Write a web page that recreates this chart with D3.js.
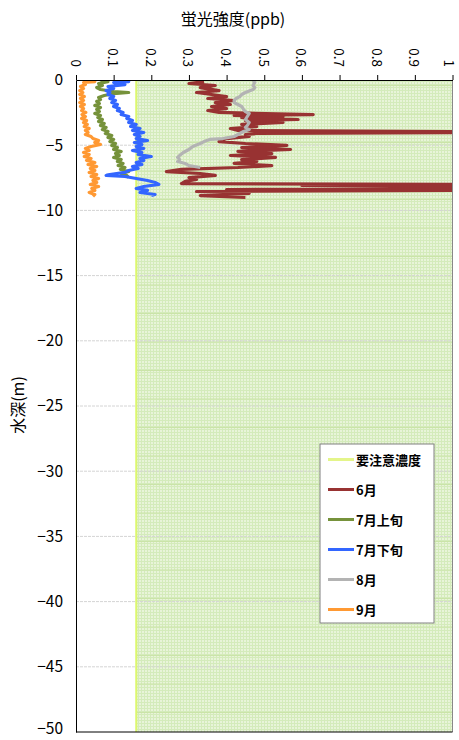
<!DOCTYPE html>
<html>
<head>
<meta charset="utf-8">
<script src="https://cdn.jsdelivr.net/npm/d3@7"></script>
<style>
  body { margin: 0; background: #fff; }
  svg text { font-family: "Noto Sans CJK JP", "Noto Sans", sans-serif; fill: #000; }
</style>
</head>
<body>
<div id="chart"></div>
<script>
// [depth (m), fluorescence (ppb)]
const jun = [[-0.12,0.34],[-0.27,0.30],[-0.42,0.37],[-0.58,0.33],[-0.81,0.38],[-0.96,0.32],[-1.11,0.36],[-1.27,0.40],[-1.42,0.35],[-1.57,0.42],[-1.73,0.37],[-1.88,0.41],[-2.03,0.36],[-2.19,0.40],[-2.34,0.35],[-2.49,0.38],[-2.65,0.63],[-2.72,0.42],[-2.80,0.55],[-2.88,0.44],[-3.03,0.59],[-3.11,0.45],[-3.26,0.55],[-3.41,0.44],[-3.57,0.48],[-3.72,0.41],[-3.87,0.43],[-3.95,1.0],[-4.03,1.0],[-4.10,0.48],[-4.18,0.45],[-4.33,0.46],[-4.49,0.40],[-4.72,0.38],[-4.87,0.45],[-5.02,0.56],[-5.18,0.44],[-5.33,0.57],[-5.48,0.43],[-5.64,0.52],[-5.79,0.41],[-5.94,0.53],[-6.10,0.44],[-6.25,0.48],[-6.40,0.42],[-6.56,0.52],[-6.71,0.43],[-6.86,0.28],[-7.02,0.24],[-7.17,0.33],[-7.32,0.37],[-7.48,0.30],[-7.63,0.32],[-7.78,0.29],[-7.94,0.28],[-8.01,1.0],[-8.09,0.6],[-8.17,1.0],[-8.32,1.0],[-8.40,0.4],[-8.47,1.0],[-8.55,0.32],[-8.70,0.46],[-8.86,0.33],[-9.01,0.45]];

const julEarly = [[-0.04,0.065],[-0.12,0.085],[-0.27,0.06],[-0.42,0.07],[-0.58,0.055],[-0.73,0.065],[-0.88,0.10],[-0.96,0.14],[-1.04,0.10],[-1.19,0.075],[-1.34,0.06],[-1.50,0.065],[-1.65,0.055],[-1.80,0.062],[-1.96,0.05],[-2.11,0.065],[-2.26,0.055],[-2.42,0.062],[-2.57,0.05],[-2.72,0.065],[-2.88,0.058],[-3.03,0.07],[-3.18,0.06],[-3.34,0.075],[-3.49,0.065],[-3.64,0.08],[-3.80,0.07],[-3.95,0.085],[-4.10,0.078],[-4.26,0.095],[-4.41,0.085],[-4.56,0.10],[-4.72,0.09],[-4.87,0.105],[-5.02,0.095],[-5.18,0.11],[-5.33,0.10],[-5.48,0.12],[-5.64,0.105],[-5.79,0.115],[-5.94,0.10],[-6.10,0.12],[-6.25,0.11],[-6.40,0.125],[-6.56,0.112],[-6.71,0.13],[-6.86,0.118],[-7.02,0.14],[-7.17,0.12],[-7.32,0.135],[-7.48,0.14]];

const julLate = [[-0.04,0.11],[-0.12,0.14],[-0.19,0.10],[-0.35,0.13],[-0.50,0.085],[-0.65,0.10],[-0.81,0.08],[-0.96,0.09],[-1.11,0.085],[-1.27,0.10],[-1.42,0.09],[-1.57,0.105],[-1.73,0.095],[-1.88,0.11],[-2.03,0.10],[-2.19,0.115],[-2.34,0.11],[-2.49,0.125],[-2.65,0.12],[-2.80,0.14],[-2.95,0.135],[-3.11,0.15],[-3.26,0.14],[-3.41,0.16],[-3.57,0.145],[-3.72,0.17],[-3.87,0.15],[-4.03,0.18],[-4.18,0.155],[-4.33,0.17],[-4.49,0.16],[-4.64,0.19],[-4.79,0.155],[-4.95,0.175],[-5.10,0.16],[-5.25,0.18],[-5.41,0.15],[-5.56,0.175],[-5.71,0.165],[-5.87,0.20],[-6.02,0.17],[-6.17,0.18],[-6.33,0.16],[-6.48,0.175],[-6.63,0.15],[-6.79,0.165],[-6.94,0.14],[-7.09,0.13],[-7.25,0.09],[-7.32,0.08],[-7.40,0.13],[-7.55,0.16],[-7.71,0.19],[-7.86,0.21],[-8.01,0.22],[-8.17,0.18],[-8.32,0.16],[-8.47,0.19],[-8.63,0.17],[-8.78,0.21],[-8.86,0.20]];

const aug = [[-0.04,0.47],[-0.19,0.475],[-0.42,0.47],[-0.58,0.475],[-0.73,0.47],[-0.96,0.45],[-1.11,0.44],[-1.27,0.435],[-1.42,0.425],[-1.57,0.42],[-1.73,0.42],[-1.88,0.43],[-2.03,0.44],[-2.26,0.445],[-2.42,0.45],[-2.57,0.46],[-2.80,0.455],[-3.03,0.45],[-3.26,0.46],[-3.49,0.455],[-3.64,0.45],[-3.80,0.46],[-3.95,0.445],[-4.10,0.435],[-4.33,0.42],[-4.49,0.39],[-4.56,0.355],[-4.72,0.34],[-4.87,0.33],[-5.10,0.31],[-5.33,0.30],[-5.56,0.285],[-5.79,0.275],[-5.94,0.27],[-6.10,0.275],[-6.25,0.27],[-6.40,0.29],[-6.56,0.30],[-6.71,0.33]];

const sep = [[-0.04,0.035],[-0.12,0.05],[-0.19,0.02],[-0.35,0.025],[-0.50,0.012],[-0.65,0.02],[-0.81,0.01],[-0.96,0.018],[-1.11,0.01],[-1.27,0.022],[-1.42,0.012],[-1.57,0.02],[-1.73,0.01],[-1.88,0.022],[-2.03,0.012],[-2.19,0.02],[-2.34,0.015],[-2.49,0.026],[-2.65,0.016],[-2.80,0.025],[-2.95,0.015],[-3.11,0.028],[-3.26,0.02],[-3.41,0.03],[-3.57,0.022],[-3.72,0.035],[-3.87,0.025],[-4.03,0.032],[-4.18,0.025],[-4.33,0.04],[-4.49,0.045],[-4.64,0.06],[-4.79,0.05],[-4.95,0.065],[-5.10,0.04],[-5.25,0.025],[-5.41,0.035],[-5.56,0.02],[-5.71,0.035],[-5.87,0.022],[-6.02,0.04],[-6.17,0.028],[-6.33,0.05],[-6.48,0.032],[-6.63,0.055],[-6.79,0.038],[-6.94,0.05],[-7.09,0.035],[-7.25,0.055],[-7.40,0.04],[-7.55,0.06],[-7.71,0.045],[-7.86,0.055],[-8.01,0.038],[-8.17,0.06],[-8.32,0.042],[-8.47,0.05],[-8.63,0.035],[-8.78,0.05],[-8.93,0.045]];

const threshold = 0.16;
const seriesNames = ["6月", "7月上旬", "7月下旬", "8月", "9月"];
const seriesData = [jun, julEarly, julLate, aug, sep];
const seriesColors = ["#983232", "#76923b", "#3366ff", "#b3b3b3", "#ff9933"];
const xTicks = [0, 0.1, 0.2, 0.3, 0.4, 0.5, 0.6, 0.7, 0.8, 0.9, 1];
const yTicks = [0, -5, -10, -15, -20, -25, -30, -35, -40, -45, -50];

const width = 459, height = 740;
const margin = { left: 76, right: 452.5, top: 80, bottom: 732 };

const svg = d3.select("#chart").append("svg")
  .attr("width", width)
  .attr("height", height);

const x = d3.scaleLinear().domain([0, 1]).range([margin.left, margin.right]);
const y = d3.scaleLinear().domain([0, -50]).range([margin.top, margin.bottom]);

// hatch pattern for the caution zone
const defs = svg.append("defs");
const fine = defs.append("pattern")
  .attr("id", "fine")
  .attr("patternUnits", "userSpaceOnUse")
  .attr("width", 3).attr("height", 3);
fine.append("rect").attr("width", 3).attr("height", 3).attr("fill", "#e8f4d9");
fine.append("rect").attr("width", 3).attr("height", 1).attr("fill", "#d4ebbb");
fine.append("rect").attr("width", 1).attr("height", 3).attr("fill", "#d4ebbb");

const coarse = defs.append("pattern")
  .attr("id", "coarse")
  .attr("patternUnits", "userSpaceOnUse")
  .attr("y", 85)
  .attr("width", 20).attr("height", 28.5);
coarse.append("rect").attr("width", 20).attr("height", 1).attr("fill", "#cae4a8");

defs.append("clipPath").attr("id", "plotClip")
  .append("rect")
  .attr("x", margin.left).attr("y", margin.top)
  .attr("width", margin.right - margin.left).attr("height", margin.bottom - margin.top);

svg.append("rect")
  .attr("x", x(threshold)).attr("y", y(0))
  .attr("width", x(1) - x(threshold)).attr("height", y(-50) - y(0))
  .attr("fill", "url(#fine)");
svg.append("rect")
  .attr("x", x(threshold)).attr("y", y(0))
  .attr("width", x(1) - x(threshold)).attr("height", y(-50) - y(0))
  .attr("fill", "url(#coarse)");

// horizontal gridlines
svg.append("g")
  .selectAll("line")
  .data(yTicks.slice(1, -1))
  .join("line")
  .attr("x1", margin.left).attr("x2", margin.right)
  .attr("y1", d => y(d)).attr("y2", d => y(d))
  .attr("stroke", "#d4d4d4")
  .attr("stroke-width", 1)
  .attr("stroke-dasharray", "3,1");

// threshold line
svg.append("line")
  .attr("x1", x(threshold)).attr("x2", x(threshold))
  .attr("y1", y(0)).attr("y2", y(-50))
  .attr("stroke", "#dcf76e")
  .attr("stroke-width", 2);

const line = d3.line()
  .x(d => x(d[1]))
  .y(d => y(d[0]));

svg.append("g")
  .attr("clip-path", "url(#plotClip)")
  .selectAll("path")
  .data(seriesData)
  .join("path")
  .attr("d", line)
  .attr("fill", "none")
  .attr("stroke", (d, i) => seriesColors[i])
  .attr("stroke-width", 3.2)
  .attr("stroke-linejoin", "round");

// right border
svg.append("line")
  .attr("x1", margin.right).attr("x2", margin.right)
  .attr("y1", margin.top).attr("y2", margin.bottom)
  .attr("stroke", "#888");

// top axis
const xAxis = svg.append("g")
  .attr("transform", `translate(0,${margin.top})`)
  .call(d3.axisTop(x).tickValues(xTicks).tickFormat(d3.format("")).tickSize(5).tickSizeOuter(0));
xAxis.select(".domain").attr("stroke", "#000");
xAxis.selectAll("text")
  .attr("font-size", 13.5)
  .attr("transform", "rotate(90)")
  .attr("text-anchor", "end")
  .attr("dominant-baseline", "central")
  .attr("x", -13)
  .attr("y", d => d === 1 ? 3 : 0);

// left axis
const yAxis = svg.append("g")
  .attr("transform", `translate(${margin.left},0)`)
  .call(d3.axisLeft(y).tickValues(yTicks).tickFormat(d3.format("")).tickSize(0).tickPadding(13));
yAxis.select(".domain").attr("stroke", "#000");
yAxis.selectAll("text")
  .attr("font-size", 15.5)
  .attr("dy", d => d === -50 ? "0.1em" : "0.32em");

// bottom line
svg.append("line")
  .attr("x1", margin.left).attr("x2", margin.right)
  .attr("y1", margin.bottom).attr("y2", margin.bottom)
  .attr("stroke", "#000");

// titles
svg.append("text")
  .attr("x", 233).attr("y", 25)
  .attr("text-anchor", "middle")
  .attr("font-size", 16)
  .text("蛍光強度(ppb)");

svg.append("text")
  .attr("transform", "translate(24,405) rotate(-90)")
  .attr("text-anchor", "middle")
  .attr("font-size", 16)
  .text("水深(m)");

// legend
const legend = svg.append("g").attr("transform", "translate(320,444)");
legend.append("rect")
  .attr("width", 114).attr("height", 179)
  .attr("fill", "#fff")
  .attr("stroke", "#808080");

const legendNames = ["要注意濃度"].concat(seriesNames);
const legendColors = ["#e4f58a"].concat(seriesColors);
const rows = legend.selectAll("g.row")
  .data(legendNames)
  .join("g")
  .attr("class", "row")
  .attr("transform", (d, i) => `translate(0,${15.5 + i * 30})`);
rows.append("line")
  .attr("x1", 8).attr("x2", 34)
  .attr("stroke", (d, i) => legendColors[i])
  .attr("stroke-width", 3);
rows.append("text")
  .attr("x", 36)
  .attr("dominant-baseline", "central")
  .attr("font-size", 13)
  .attr("font-weight", "bold")
  .text(d => d);
</script>
</body>
</html>
